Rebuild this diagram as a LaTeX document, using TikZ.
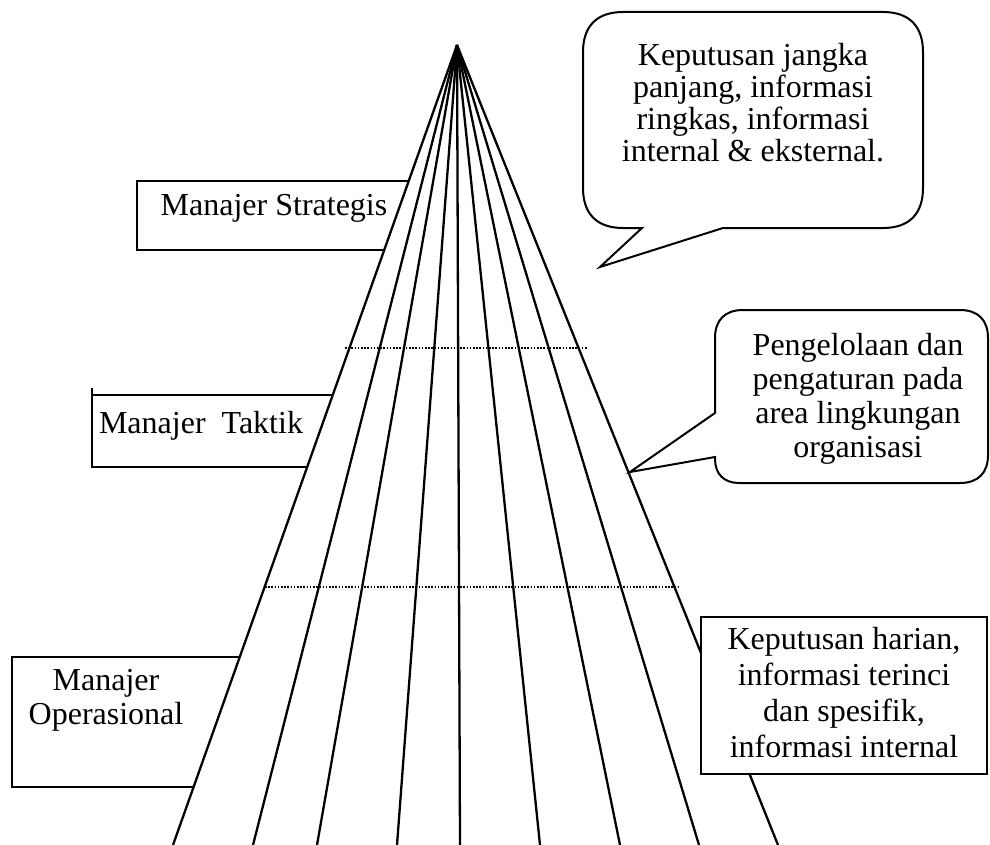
\documentclass[tikz,border=0pt]{standalone}
\usepackage{fontspec}
\setmainfont{Liberation Serif}
\begin{document}
\begin{tikzpicture}[x=1pt,y=-1pt,
  fan/.style={line width=2.3pt},
  frame/.style={draw, line width=2pt},
  guide/.style={line width=1.4pt, dash pattern=on 1.6pt off 1.6pt},
  lbl/.style={inner sep=0pt, align=center},
  big/.style={font=\fontsize{32}{#1}\selectfont},
  big/.default=34]
\useasboundingbox (0,0) rectangle (990,845);

% level frames on the left (their right ends disappear behind the fan)
\draw[frame] (137,181) rectangle (440,250);
\draw[frame] (92,388) -- (92,467) -- (360,467) -- (360,395) -- (92,395);
\draw[frame] (12,657) rectangle (260,787);

% apex and foot points of the fan
\coordinate (apex) at (457,45);
\foreach \i/\x in {1/173,2/253,3/317,4/397,5/460,6/540,7/620,8/699,9/778}
  \coordinate (b\i) at (\x,845);

% white body of the pyramid
\fill[white] (apex) -- (b1) -- (b9) -- cycle;

% fan lines
\foreach \i in {1,...,9}
  \draw[fan] (apex) -- (b\i);

% dotted level separators
\coordinate (d1a) at (345,348);
\coordinate (d1b) at (587,348);
\coordinate (d2a) at (265,587);
\coordinate (d2b) at (678,587);
\draw[guide] (d1a) -- (d1b);
\draw[guide] (d2a) -- (d2b);

% speech bubble, top
\draw[frame, fill=white] (642,228) -- (623,228)
  .. controls (597,228) and (583,214) .. (583,188) -- (583,52)
  .. controls (583,26) and (597,12) .. (623,12) -- (883,12)
  .. controls (909,12) and (923,26) .. (923,52) -- (923,188)
  .. controls (923,214) and (909,228) .. (883,228) -- (723,228)
  -- (600,267) -- cycle;

% speech bubble, middle
\draw[frame, fill=white] (715,413) -- (715,338)
  .. controls (715,320) and (725,310) .. (743,310) -- (960,310)
  .. controls (978,310) and (988,320) .. (988,338) -- (988,455)
  .. controls (988,473) and (978,483) .. (960,483) -- (739,483)
  .. controls (724,483) and (715,474) .. (715,459) -- (715,457)
  -- (630,472) -- cycle;

% box, bottom right
\draw[frame, fill=white] (701,617) rectangle (987,774);

% texts
\node[lbl, big, anchor=base] (strat) at (274,215) {Manajer Strategis};
\node[lbl, big, anchor=base] (takt) at (201,433) {Manajer\ \ Taktik};
\node[lbl, big, anchor=north] (oper) at (106,669) {Manajer\\Operasional};
\node[lbl, big=32, anchor=north] (t1) at (753,43)
  {Keputusan jangka\\panjang, informasi\\ringkas, informasi\\internal \& eksternal.};
\node[lbl, big=34, anchor=north] (t2) at (858,333)
  {Pengelolaan dan\\pengaturan pada\\area lingkungan\\organisasi};
\node[lbl, big=36, anchor=north] (t3) at (844,627)
  {Keputusan harian,\\informasi terinci\\dan spesifik,\\informasi internal};
\end{tikzpicture}
\end{document}
